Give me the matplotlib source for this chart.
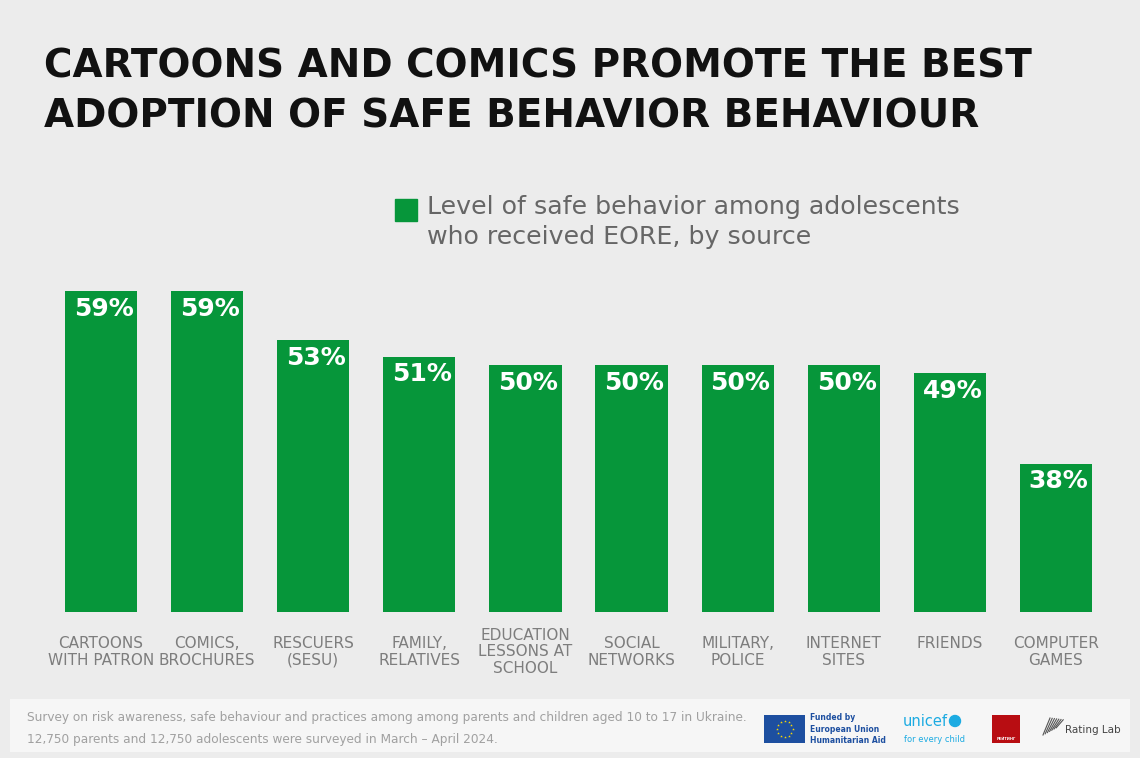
import numpy as np
import matplotlib.pyplot as plt
from matplotlib.patches import Rectangle
import matplotlib.transforms as mtransforms

categories = ["CARTOONS\nWITH PATRON", "COMICS,\nBROCHURES", "RESCUERS\n(SESU)",
              "FAMILY,\nRELATIVES", "EDUCATION\nLESSONS AT\nSCHOOL", "SOCIAL\nNETWORKS",
              "MILITARY,\nPOLICE", "INTERNET\nSITES", "FRIENDS", "COMPUTER\nGAMES"]
values = [59, 59, 53, 51, 50, 50, 50, 50, 49, 38]

title = "CARTOONS AND COMICS PROMOTE THE BEST\nADOPTION OF SAFE BEHAVIOR BEHAVIOUR"
legend_text = "Level of safe behavior among adolescents\nwho received EORE, by source"
footnote = ("Survey on risk awareness, safe behaviour and practices among among parents and children aged 10 to 17 in Ukraine.\n"
            "12,750 parents and 12,750 adolescents were surveyed in March \u2013 April 2024.")

GREEN = "#06963a"
BG = "#ececec"
W, H = 1140, 758

plt.rcParams["font.family"] = ["DejaVu Sans"]

fig = plt.figure(figsize=(W / 100, H / 100), dpi=100, facecolor=BG)

# overlay in pixel coordinates for decorations
ov = fig.add_axes([0, 0, 1, 1], zorder=0)
ov.set_xlim(0, W)
ov.set_ylim(H, 0)
ov.axis("off")

# main bar axes: baseline at y=612 px, value 59 at y=291 px
ax = fig.add_axes([48 / W, 1 - 612 / H, 1061 / W, 321 / H], zorder=1)
ax.patch.set_alpha(0)
x = np.arange(len(values))
bars = ax.bar(x, values, width=0.68, color=GREEN)
ax.set_xlim(-0.5, len(values) - 0.5)
ax.set_ylim(20, 59)
ax.axis("off")

for xi, v in zip(x, values):
    ax.annotate(f"{v}%", (xi, v), xytext=(2, -4), textcoords="offset points",
                ha="center", va="top", color="white", fontsize=18, fontweight="bold")

# category labels
tr = mtransforms.blended_transform_factory(ax.transData, fig.transFigure)
for xi, lab in zip(x, categories):
    if "\n" in lab:
        fig.text(xi, 1 - 652 / H, lab, transform=tr, ha="center", va="center",
                 fontsize=11, color="#7d7d7d", linespacing=1.15)
    else:
        fig.text(xi, 1 - 643 / H, lab, transform=tr, ha="center", va="center",
                 fontsize=11, color="#7d7d7d")

# title
ov.text(44, 48, title, ha="left", va="top", fontsize=28, fontweight="bold",
        color="#111111", linespacing=1.38)

# legend
ov.add_patch(Rectangle((395, 199), 22, 22, color=GREEN))
ov.text(427, 195, legend_text, ha="left", va="top", fontsize=18.2, color="#666666",
        linespacing=1.3)

# footer panel
ov.add_patch(Rectangle((10, 699), 1120, 53, color="#f6f6f6", lw=0))
ov.text(27, 728.5, footnote, ha="left", va="center", fontsize=8.7, color="#a0a0a0",
        linespacing=2.0)

# EU logo
ov.add_patch(Rectangle((764, 715), 41, 28, color="#1d4fa0", lw=0))
ang = np.linspace(0, 2 * np.pi, 13)[:-1]
ov.scatter(784.5 + 8 * np.cos(ang), 729 + 8 * np.sin(ang), marker="*", s=4,
           color="#ffdd00", lw=0)
ov.text(810, 729, "Funded by\nEuropean Union\nHumanitarian Aid", ha="left", va="center",
        fontsize=5.5, fontweight="bold", color="#1d4fa0", linespacing=1.3)

# unicef logo
ov.text(903, 722, "unicef", ha="left", va="center", fontsize=10.5, color="#1cabe2")
ov.add_patch(plt.Circle((955, 721), 5.5, color="#1cabe2"))
ov.text(904, 740, "for every child", ha="left", va="center", fontsize=6,
        color="#1cabe2")

# rating logo
ov.add_patch(Rectangle((992, 715), 28, 28, color="#b80d12", lw=0))
ov.text(1006, 739, "РЕЙТИНГ", ha="center", va="center", fontsize=2.6,
        color="white", fontweight="bold")

# rating lab logo
for k in range(7):
    ov.plot([1043 + k * 2.2, 1050 + k * 2.2], [735 - k * 1.2, 718 + k * 0.3],
            color="#555555", lw=0.8)
ov.text(1065, 730, "Rating Lab", ha="left", va="center", fontsize=7.5, color="#444444")

fig.savefig("out.png", dpi=100, facecolor=BG)
